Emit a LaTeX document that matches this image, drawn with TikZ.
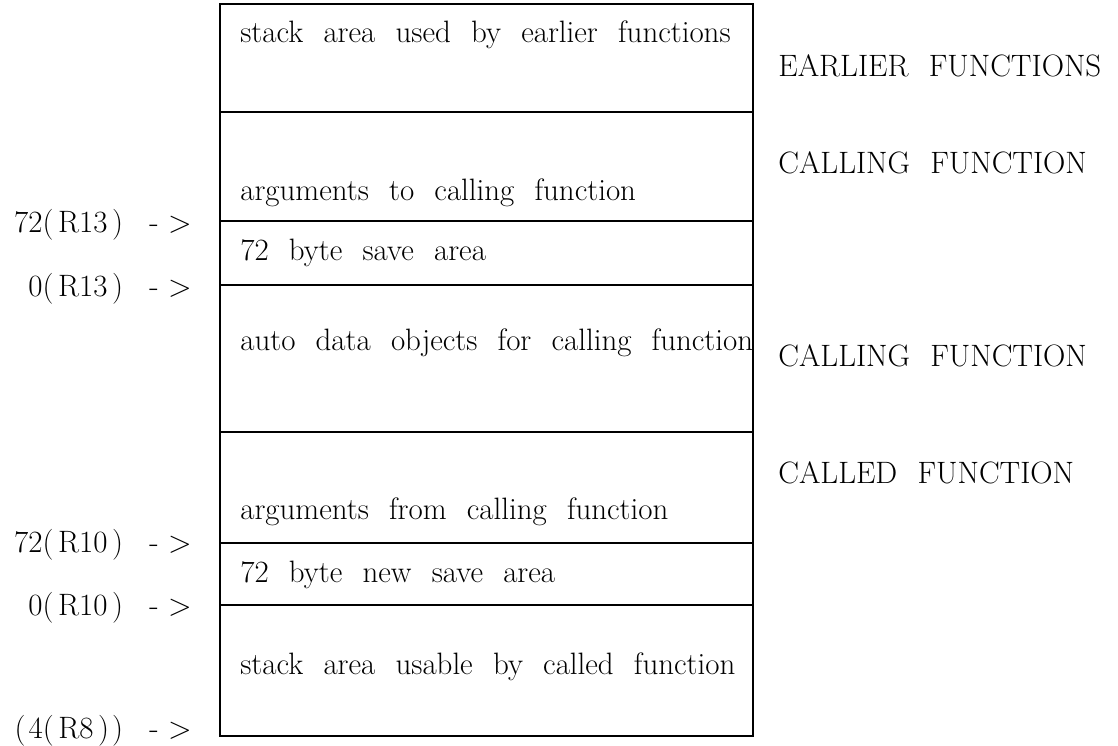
\documentclass[tikz,border=0pt]{standalone}
\usetikzlibrary{positioning}

\begin{document}
\begin{tikzpicture}[
  x=0.02cm, y=-0.02cm,
  txt/.style={inner sep=0pt, font={\fontsize{17.6}{20}\selectfont\spaceskip=11.5pt plus 2pt}},
  cell/.style={txt, anchor=west},
  owner/.style={txt, anchor=west},
  addr/.style={txt, anchor=east},
  frame/.style={line width=1.1pt},
  divider/.style={line width=0.8pt},
]
  \useasboundingbox (0,0) rectangle (1118,746);

  % stack frame outline and row dividers
  \draw[frame] (220,4) rectangle (753,736);
  \foreach \y in {112,221,285,432,543,605}
    \draw[divider] (220,\y) -- (753,\y);

  % row contents
  \node[cell] (earlier)  at (240,35)  {stack area used by earlier functions};
  \node[cell] (argsto)   at (240,193) {arguments to calling function};
  \node[cell] (save)     at (240,253) {72 byte save area};
  \node[cell] (auto)     at (240,343) {auto data objects for calling function};
  \node[cell] (argsfrom) at (240,512) {arguments from calling function};
  \node[cell] (newsave)  at (240,575) {72 byte new save area};
  \node[cell] (usable)   at (240,667) {stack area usable by called function};

  % register offsets
  \node[addr] (r13top) at (192,225) {72(\hspace{0.15em}R13\hspace{0.15em})\hspace{0.85em}-\hspace{0.3em}>};
  \node[addr] (r13bot) at (192,289) {0(\hspace{0.15em}R13\hspace{0.15em})\hspace{0.85em}-\hspace{0.3em}>};
  \node[addr] (r10top) at (192,545) {72(\hspace{0.15em}R10\hspace{0.15em})\hspace{0.85em}-\hspace{0.3em}>};
  \node[addr] (r10bot) at (192,608) {0(\hspace{0.15em}R10\hspace{0.15em})\hspace{0.85em}-\hspace{0.3em}>};
  \node[addr] (r8)     at (192,731) {(\hspace{0.1em}4(\hspace{0.15em}R8\hspace{0.15em})\hspace{0.1em})\hspace{0.85em}-\hspace{0.3em}>};

  % which function owns each part
  \node[owner] (ownearlier) at (778,66)  {EARLIER FUNCTIONS};
  \node[owner] (owncalling) at (778,163) {CALLING FUNCTION};
  \node[owner] (ownauto)    at (778,356) {CALLING FUNCTION};
  \node[owner] (owncalled)  at (778,473) {CALLED FUNCTION};
\end{tikzpicture}
\end{document}
